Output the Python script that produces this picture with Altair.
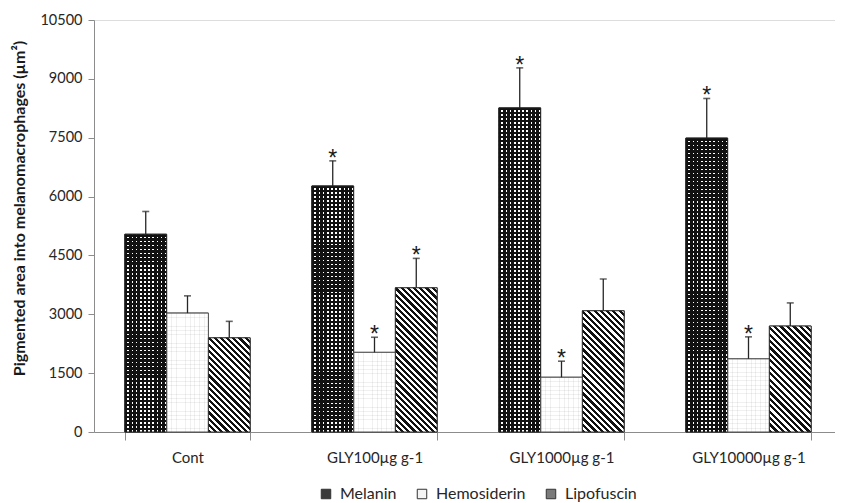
import altair as alt
import pandas as pd

groups = ["Cont", "GLY100µg g-1", "GLY1000µg g-1", "GLY10000µg g-1"]
series = ["Melanin", "Hemosiderin", "Lipofuscin"]

melanin = [5040, 6270, 8260, 7490]
melanin_se = [580, 640, 1020, 1010]
hemosiderin = [3030, 2030, 1395, 1865]
hemosiderin_se = [440, 385, 410, 560]
lipofuscin = [2400, 3675, 3090, 2700]
lipofuscin_se = [420, 750, 810, 590]
melanin_sig = [False, True, True, True]
hemosiderin_sig = [False, True, True, True]
lipofuscin_sig = [False, True, False, False]

y_ticks = [0, 1500, 3000, 4500, 6000, 7500, 9000, 10500]
y_title = "Pigmented area into melanomacrophages (µm²)"

values = {"Melanin": melanin, "Hemosiderin": hemosiderin, "Lipofuscin": lipofuscin}
ses = {"Melanin": melanin_se, "Hemosiderin": hemosiderin_se, "Lipofuscin": lipofuscin_se}
sigs = {"Melanin": melanin_sig, "Hemosiderin": hemosiderin_sig, "Lipofuscin": lipofuscin_sig}

rows = []
for s in series:
    for i, g in enumerate(groups):
        v = values[s][i]
        e = ses[s][i]
        rows.append({"group": g, "series": s, "value": v, "se": e,
                     "top": v + e, "star": "*" if sigs[s][i] else ""})
df = pd.DataFrame(rows)

# geometry of the plot (used only for pattern styling)
W, H = 741, 412
RANGE_W = 748
YMAX = 10500
STEP = RANGE_W / len(groups)
BAR_W = STEP * 0.67 / 3


def stripes(n, frac, c_on, c_off, x1, y1, x2, y2):
    n = max(1, int(round(n)))
    stops = []
    for i in range(n):
        a = round(i / n, 6)
        b = round((i + frac) / n, 6)
        c = round((i + 1) / n, 6)
        stops += [{"offset": a, "color": c_on}, {"offset": b, "color": c_on},
                  {"offset": b, "color": c_off}, {"offset": c, "color": c_off}]
    return {"gradient": "linear", "x1": x1, "y1": y1, "x2": x2, "y2": y2, "stops": stops}


TRANSP = "rgba(0,0,0,0)"
FONT = "Lato"

xenc = alt.X("group:N", sort=groups,
             scale=alt.Scale(domain=groups, range=[0, RANGE_W], paddingInner=0.33, paddingOuter=0.165),
             axis=alt.Axis(title=None, tickBand="extent", labelAngle=0, labelFont=FONT,
                           labelFontSize=15, labelColor="#262626", labelPadding=10,
                           tickSize=8, tickColor="#8c8c8c", domainColor="#8c8c8c"))
xoff = alt.XOffset("series:N", sort=series,
                   scale=alt.Scale(domain=series, paddingInner=0, paddingOuter=0))
yaxis = alt.Axis(title=y_title, values=y_ticks, format="d", grid=False, tickSize=6, tickColor="#8c8c8c",
                 domainColor="#8c8c8c", labelFont=FONT, labelFontSize=14.5, labelColor="#262626",
                 labelPadding=6, titleFont=FONT, titleFontSize=16, titleFontWeight="bold",
                 titleColor="#1a1a1a", titleAngle=270, titleX=-75, titleY=188,
                 titleAlign="center", titleBaseline="middle")
yscale = alt.Scale(domain=[0, YMAX], nice=False)


def ych(field):
    return alt.Y(f"{field}:Q", scale=yscale, axis=yaxis)


base = alt.Chart(df).encode(x=xenc, xOffset=xoff)

layers = []

# base bars (carry the legend)
layers.append(base.mark_bar(stroke="#333333", strokeWidth=1).encode(
    y=ych("value"),
    fill=alt.Fill("series:N", sort=series,
                  scale=alt.Scale(domain=series, range=["#3a3a3a", "#f4f4f4", "#7a7a7a"]),
                  legend=alt.Legend(title=None, orient="none", legendX=224, legendY=466,
                                    direction="horizontal", symbolType="square", symbolSize=90,
                                    symbolStrokeColor="#333333", symbolStrokeWidth=1,
                                    labelFont=FONT, labelFontSize=16, labelColor="#262626",
                                    labelOffset=6, columnPadding=17, padding=0)),
))

# white underlay for melanin and hemosiderin textures
layers.append(base.mark_bar(fill="white", strokeWidth=0).encode(y=ych("value"))
              .transform_filter("datum.series !== 'Lipofuscin'"))

# melanin: vertical black stripes
layers.append(base.mark_bar(fill=stripes(BAR_W / 4.0, 0.6, "#111111", TRANSP, 0, 0, 1, 0), strokeWidth=0)
              .encode(y=ych("value")).transform_filter("datum.series === 'Melanin'"))
# hemosiderin: faint vertical stripes
layers.append(base.mark_bar(fill=stripes(BAR_W / 4.6, 0.2, "rgba(0,0,0,0.06)", TRANSP, 0, 0, 1, 0), strokeWidth=0)
              .encode(y=ych("value")).transform_filter("datum.series === 'Hemosiderin'"))

for i, g in enumerate(groups):
    # melanin horizontal stripes -> white holes on black
    h = melanin[i] / YMAX * H
    layers.append(base.mark_bar(fill=stripes(h / 4.0, 0.6, "#111111", TRANSP, 0, 0, 0, 1),
                                stroke="#222222", strokeWidth=1)
                  .encode(y=ych("value"))
                  .transform_filter(f"datum.series === 'Melanin' && datum.group === '{g}'"))
    # hemosiderin faint horizontal stripes
    h = hemosiderin[i] / YMAX * H
    layers.append(base.mark_bar(fill=stripes(h / 4.2, 0.2, "rgba(0,0,0,0.06)", TRANSP, 0, 0, 0, 1),
                                stroke="#555555", strokeWidth=1)
                  .encode(y=ych("value"))
                  .transform_filter(f"datum.series === 'Hemosiderin' && datum.group === '{g}'"))
    # lipofuscin diagonal stripes
    h = lipofuscin[i] / YMAX * H
    r = h / BAR_W
    a = (1 + r) / (1 + r * r)
    n = (BAR_W + h) / 6.3
    layers.append(base.mark_bar(fill=stripes(n, 0.5, "#111111", "#ffffff", 0, 1, a, 1 - a * r),
                                stroke="#333333", strokeWidth=1)
                  .encode(y=ych("value"))
                  .transform_filter(f"datum.series === 'Lipofuscin' && datum.group === '{g}'"))

# error bars
layers.append(base.mark_rule(color="#262626", strokeWidth=1.3).encode(
    y=ych("value"), y2="top:Q"))
layers.append(base.mark_tick(color="#262626", thickness=1.6, size=7, orient="horizontal").encode(
    y=ych("top")))

# significance stars
layers.append(base.mark_text(text="*", font="Liberation Sans", fontSize=23, color="#1a1a1a",
                             baseline="alphabetic", dy=5).encode(y=ych("top"))
              .transform_filter("datum.star === '*'"))

chart = alt.layer(*layers).properties(
    width=W, height=H,
    padding={"left": 86, "top": 12, "right": 0, "bottom": 70},
    autosize=alt.AutoSizeParams(type="none"),
).configure_view(stroke=None).configure(background="white")

chart.save("out.html", embed_options={"renderer": "svg", "actions": False})
